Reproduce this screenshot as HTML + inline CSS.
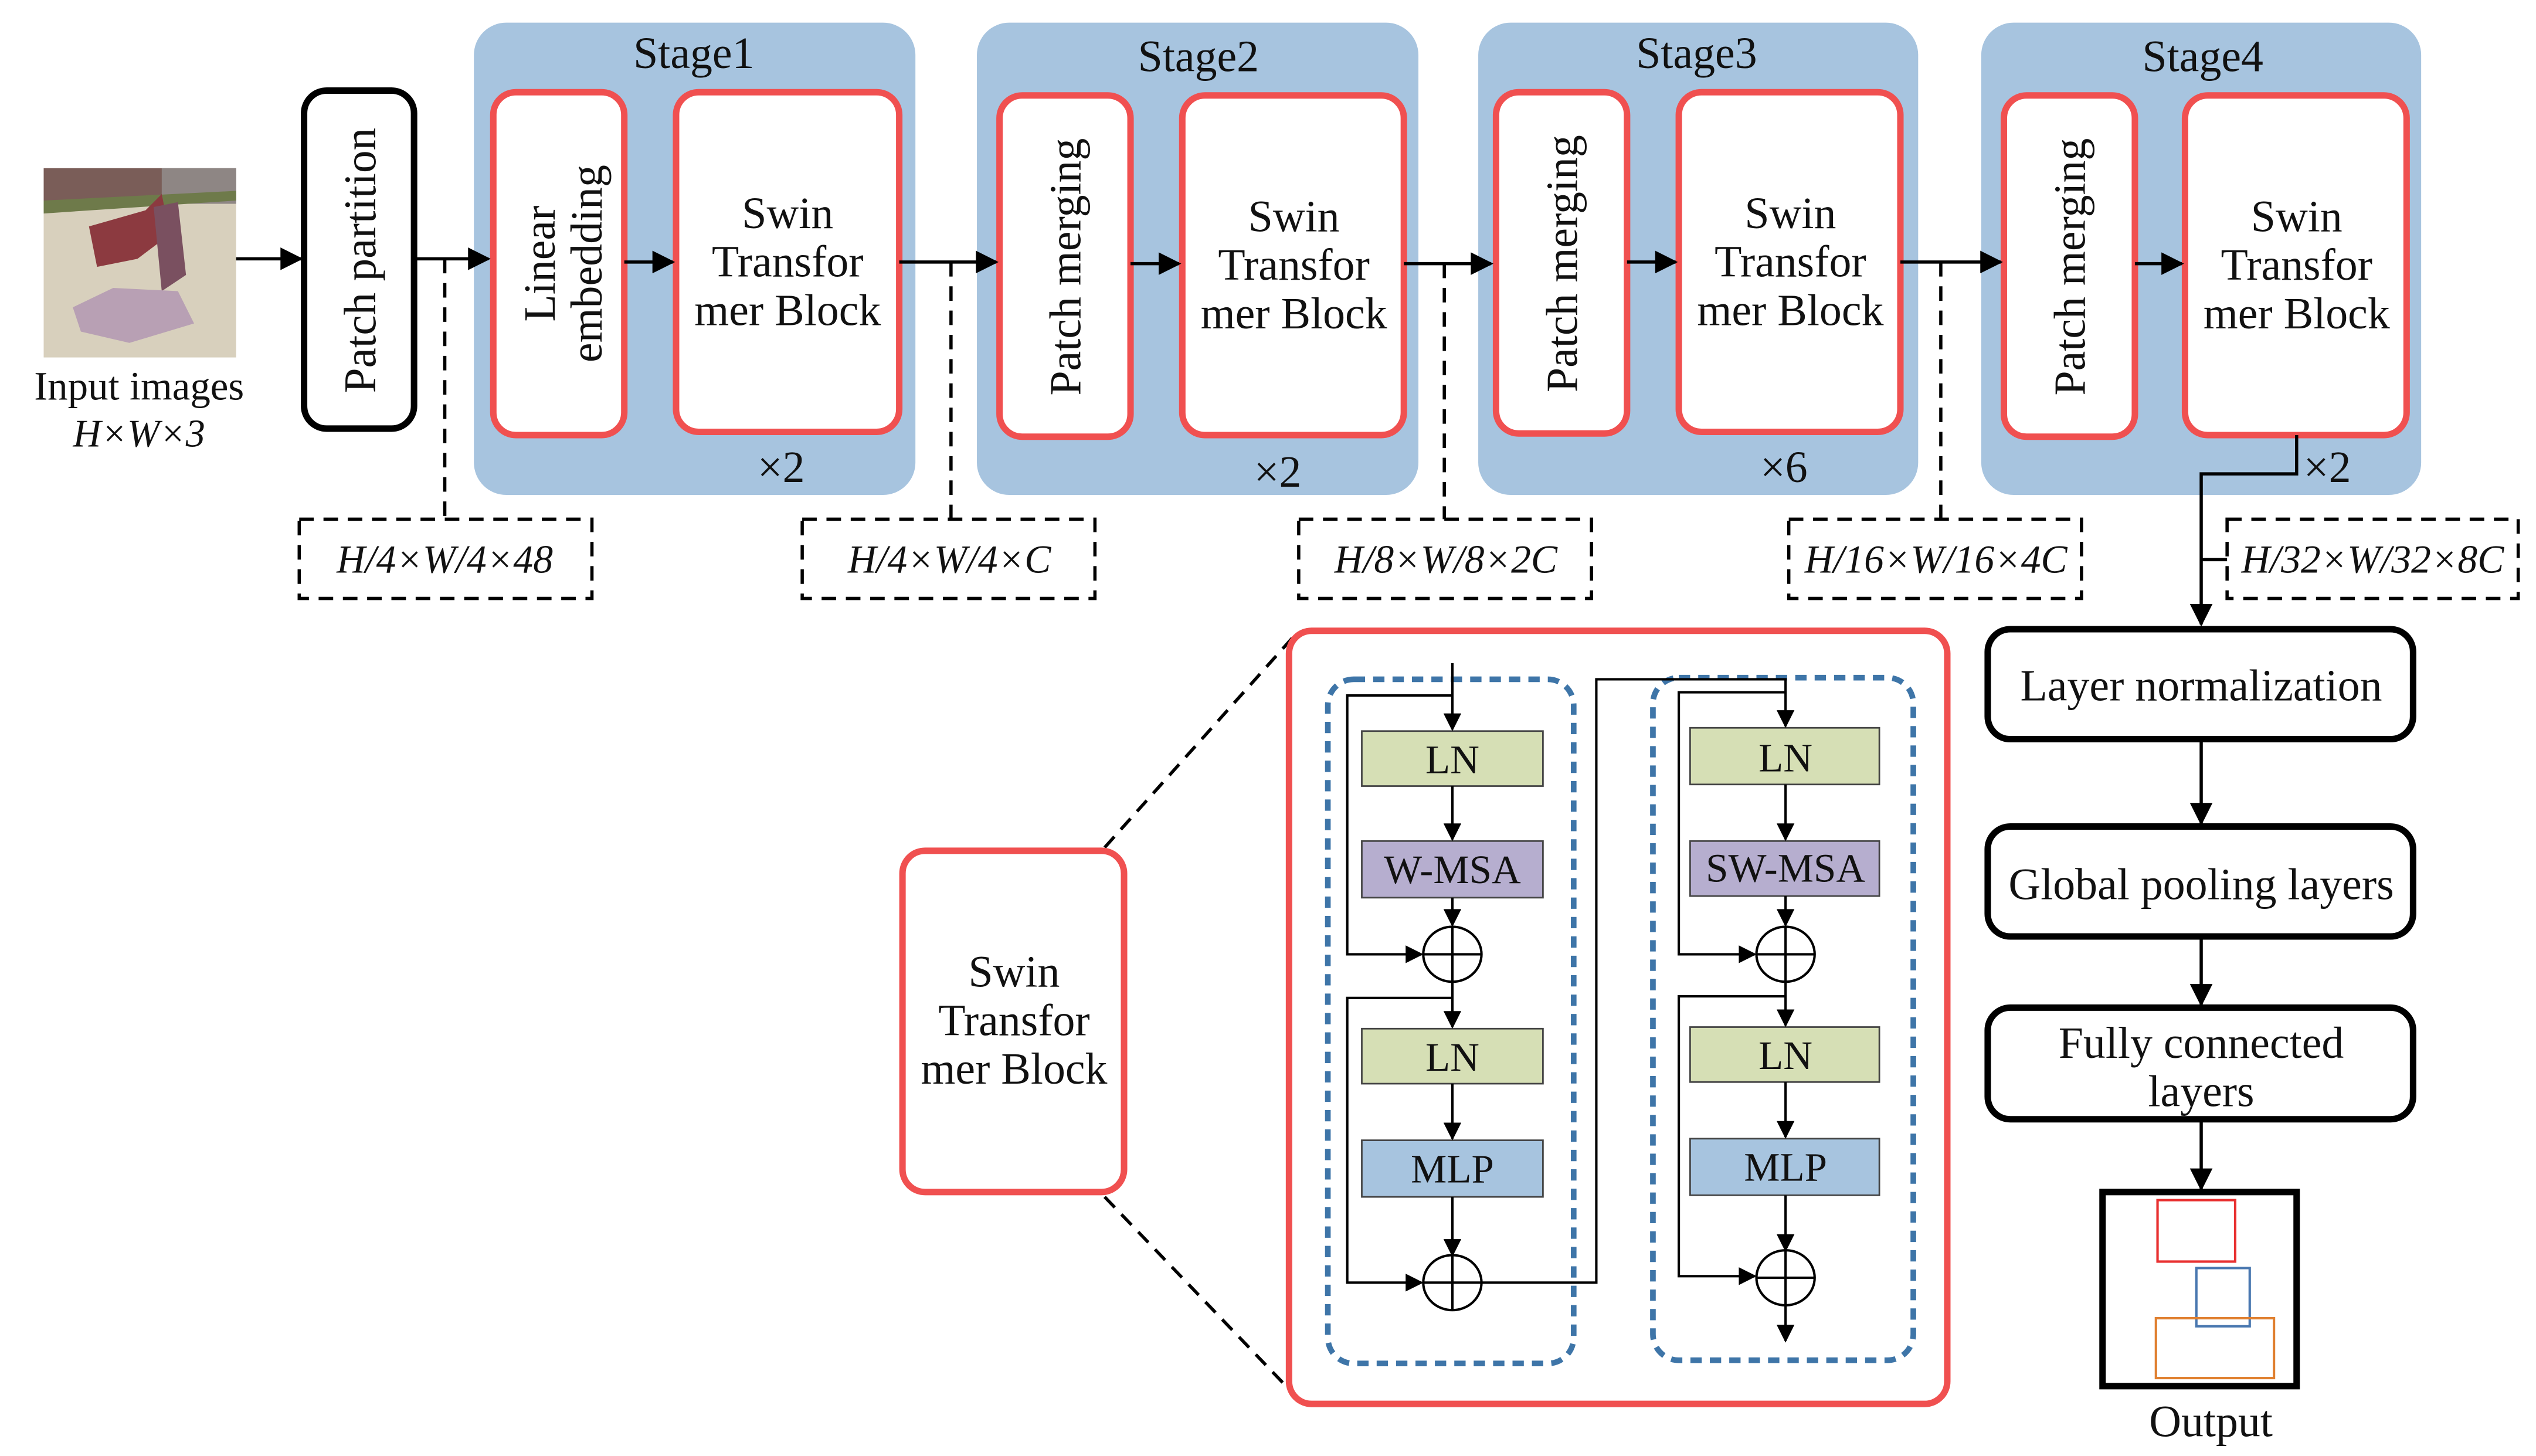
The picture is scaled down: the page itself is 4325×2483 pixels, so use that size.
<!DOCTYPE html>
<html><head><meta charset="utf-8"><style>
html,body{margin:0;padding:0;background:#fff;}
svg{display:block;}
text{font-family:"Liberation Serif",serif;fill:#111;}
</style></head><body>
<svg width="4325" height="2483" viewBox="0 0 1568 900.2" xmlns="http://www.w3.org/2000/svg">
<defs>
<marker id="a" viewBox="0 0 10 10" refX="9" refY="5" markerWidth="13" markerHeight="11" orient="auto" markerUnits="userSpaceOnUse"><path d="M0,0L10,5L0,10z" fill="#000"/></marker>
<marker id="b" viewBox="0 0 10 10" refX="9" refY="5" markerWidth="16" markerHeight="14" orient="auto" markerUnits="userSpaceOnUse"><path d="M0,0L10,5L0,10z" fill="#000"/></marker>
</defs>
<g id="img">
<rect x="27" y="104" width="119" height="117" fill="#d8d0bd"/>
<rect x="27" y="104" width="119" height="20" fill="#7a5d58"/>
<rect x="100" y="104" width="46" height="22" fill="#8e8684"/>
<path d="M27,124 L146,118 L146,124 L27,132z" fill="#6e7a4a"/>
<path d="M55,140 L90,130 L100,120 L105,145 L85,160 L60,165z" fill="#8c3a40"/>
<path d="M95,128 L110,125 L115,170 L100,180z" fill="#7a5060"/>
<path d="M45,190 L70,178 L110,180 L120,200 L80,212 L50,205z" fill="#b8a0b4"/>
</g>
<text x="86" y="247" font-size="25" text-anchor="middle">Input images</text>
<text x="86" y="276" font-size="24" text-anchor="middle" font-style="italic">H×W×3</text>

<rect x="188" y="56" width="68" height="209" rx="14" fill="#fff" stroke="#000" stroke-width="4"/>
<text transform="translate(232,161) rotate(-90)" font-size="28" text-anchor="middle">Patch partition</text>

<g fill="#a7c4df">
<rect x="293" y="14" width="273" height="292" rx="20"/>
<rect x="604" y="14" width="273" height="292" rx="20"/>
<rect x="914" y="14" width="272" height="292" rx="20"/>
<rect x="1225" y="14" width="272" height="292" rx="20"/>
</g>
<g font-size="27.5" text-anchor="middle">
<text x="429" y="42">Stage1</text><text x="741" y="44">Stage2</text><text x="1049" y="42">Stage3</text><text x="1362" y="44">Stage4</text>
</g>
<g fill="#fff" stroke="#f05050" stroke-width="4">
<rect x="305" y="57" width="81" height="212" rx="14"/><rect x="418" y="57" width="138" height="210" rx="14"/>
<rect x="618" y="59" width="81" height="211" rx="14"/><rect x="731" y="59" width="137" height="210" rx="14"/>
<rect x="925" y="57" width="81" height="211" rx="14"/><rect x="1038" y="57" width="137" height="210" rx="14"/>
<rect x="1239" y="59" width="81" height="211" rx="14"/><rect x="1351" y="59" width="137" height="210" rx="14"/>
</g>
<text transform="translate(343,163) rotate(-90)" font-size="27.5" text-anchor="middle">Linear</text>
<text transform="translate(372,163) rotate(-90)" font-size="27.5" text-anchor="middle">embedding</text>
<text transform="translate(668,165) rotate(-90)" font-size="27.5" text-anchor="middle">Patch merging</text>
<text transform="translate(975,163) rotate(-90)" font-size="27.5" text-anchor="middle">Patch merging</text>
<text transform="translate(1289,165) rotate(-90)" font-size="27.5" text-anchor="middle">Patch merging</text>
<g font-size="27.5" text-anchor="middle">
<text x="487" y="141">Swin</text><text x="487" y="171">Transfor</text><text x="487" y="201">mer Block</text>
<text x="800" y="143">Swin</text><text x="800" y="173">Transfor</text><text x="800" y="203">mer Block</text>
<text x="1107" y="141">Swin</text><text x="1107" y="171">Transfor</text><text x="1107" y="201">mer Block</text>
<text x="1420" y="143">Swin</text><text x="1420" y="173">Transfor</text><text x="1420" y="203">mer Block</text>
<text x="483" y="298">×2</text><text x="790" y="301">×2</text><text x="1103" y="298">×6</text><text x="1439" y="298">×2</text>
</g>
<g stroke="#000" stroke-width="2" fill="none" marker-end="url(#b)">
<line x1="146" y1="160" x2="186" y2="160"/>
<line x1="256" y1="160" x2="302" y2="160"/>
<line x1="386" y1="162" x2="416" y2="162"/>
<line x1="556" y1="162" x2="616" y2="162"/>
<line x1="699" y1="163" x2="729" y2="163"/>
<line x1="868" y1="163" x2="922" y2="163"/>
<line x1="1006" y1="162" x2="1036" y2="162"/>
<line x1="1175" y1="162" x2="1237" y2="162"/>
<line x1="1320" y1="163" x2="1349" y2="163"/>
<polyline points="1420,269 1420,293 1361,293 1361,386"/>
<line x1="1361" y1="457" x2="1361" y2="509"/>
<line x1="1361" y1="579" x2="1361" y2="621"/>
<line x1="1361" y1="692" x2="1361" y2="735"/>
</g>
<line x1="1361" y1="346" x2="1377" y2="346" stroke="#000" stroke-width="2"/>
<g stroke="#000" stroke-width="2" fill="none" stroke-dasharray="9 6">
<line x1="275" y1="160" x2="275" y2="321"/><line x1="588" y1="162" x2="588" y2="321"/>
<line x1="893" y1="163" x2="893" y2="321"/><line x1="1200" y1="162" x2="1200" y2="321"/>
<rect x="185" y="321" width="181" height="49"/><rect x="496" y="321" width="181" height="49"/>
<rect x="803" y="321" width="181" height="49"/><rect x="1106" y="321" width="181" height="49"/>
<rect x="1377" y="321" width="180" height="49"/>
<line x1="683" y1="524" x2="803" y2="390"/><line x1="683" y1="740" x2="800" y2="862"/>
</g>
<g font-size="24.5" font-style="italic" text-anchor="middle">
<text x="275" y="354">H/4×W/4×48</text><text x="587" y="354">H/4×W/4×C</text>
<text x="894" y="354">H/8×W/8×2C</text><text x="1197" y="354">H/16×W/16×4C</text>
<text x="1467" y="354">H/32×W/32×8C</text>
</g>
<g fill="#fff" stroke="#000" stroke-width="4">
<rect x="1229" y="389" width="263" height="68" rx="14"/>
<rect x="1229" y="511" width="263" height="68" rx="14"/>
<rect x="1229" y="623" width="263" height="69" rx="14"/>
<rect x="1300" y="737" width="120" height="120"/>
</g>
<g font-size="27.5" text-anchor="middle">
<text x="1361" y="433">Layer normalization</text>
<text x="1361" y="556">Global pooling layers</text>
<text x="1361" y="654">Fully connected</text><text x="1361" y="684">layers</text>
<text x="1367" y="888">Output</text>
</g>
<rect x="1334" y="742" width="48" height="38" fill="none" stroke="#e83030" stroke-width="1.5"/>
<rect x="1358" y="784" width="33" height="36" fill="none" stroke="#4a78b0" stroke-width="1.5"/>
<rect x="1333" y="815" width="73" height="37" fill="none" stroke="#e08030" stroke-width="1.5"/>

<rect x="558" y="526" width="137" height="211" rx="14" fill="#fff" stroke="#f05050" stroke-width="4"/>
<g font-size="27.5" text-anchor="middle"><text x="627" y="610">Swin</text><text x="627" y="640">Transfor</text><text x="627" y="670">mer Block</text></g>

<rect x="797" y="390" width="407" height="478" rx="14" fill="#fff" stroke="#f05050" stroke-width="4"/>
<g fill="none" stroke="#3e75a8" stroke-width="3.5" stroke-dasharray="7 5">
<rect x="821" y="420" width="152" height="423" rx="16"/>
<rect x="1022" y="419" width="161" height="422" rx="16"/>
</g>
<g stroke="#444" stroke-width="1">
<rect x="842" y="452" width="112" height="34" fill="#d6dfb5"/>
<rect x="842" y="520" width="112" height="35" fill="#b6aecf"/>
<rect x="842" y="636" width="112" height="34" fill="#d6dfb5"/>
<rect x="842" y="705" width="112" height="35" fill="#a7c4df"/>
<rect x="1045" y="450" width="117" height="35" fill="#d6dfb5"/>
<rect x="1045" y="520" width="117" height="34" fill="#b6aecf"/>
<rect x="1045" y="635" width="117" height="34" fill="#d6dfb5"/>
<rect x="1045" y="704" width="117" height="35" fill="#a7c4df"/>
</g>
<g font-size="25" text-anchor="middle">
<text x="898" y="478">LN</text><text x="898" y="546">W-MSA</text><text x="898" y="662">LN</text><text x="898" y="731">MLP</text>
<text x="1104" y="477">LN</text><text x="1104" y="545">SW-MSA</text><text x="1104" y="661">LN</text><text x="1104" y="730">MLP</text>
</g>
<g stroke="#000" stroke-width="1.5" fill="none" marker-end="url(#a)">
<line x1="898" y1="410" x2="898" y2="451"/><line x1="898" y1="486" x2="898" y2="519"/>
<line x1="898" y1="555" x2="898" y2="572"/>
<line x1="898" y1="607" x2="898" y2="635"/><line x1="898" y1="670" x2="898" y2="704"/>
<line x1="898" y1="740" x2="898" y2="776"/>
<polyline points="898,430 833,430 833,590 879,590"/>
<polyline points="898,617 833,617 833,793 879,793"/>
<polyline points="916,793 987,793 987,420 1104,420 1104,449"/>
<line x1="1104" y1="485" x2="1104" y2="519"/><line x1="1104" y1="554" x2="1104" y2="572"/>
<line x1="1104" y1="607" x2="1104" y2="634"/><line x1="1104" y1="669" x2="1104" y2="703"/>
<line x1="1104" y1="739" x2="1104" y2="773"/>
<line x1="1104" y1="807" x2="1104" y2="829"/>
<polyline points="1104,428 1038,428 1038,590 1085,590"/>
<polyline points="1104,616 1038,616 1038,789 1085,789"/>
</g>
<g stroke="#000" stroke-width="1.5" fill="#fff">
<ellipse cx="898" cy="590" rx="18" ry="17"/><ellipse cx="898" cy="793" rx="18" ry="17"/>
<ellipse cx="1104" cy="590" rx="18" ry="17"/><ellipse cx="1104" cy="790" rx="18" ry="17"/>
</g>
<g stroke="#000" stroke-width="1.5">
<line x1="880" y1="590" x2="916" y2="590"/><line x1="898" y1="573" x2="898" y2="607"/>
<line x1="880" y1="793" x2="916" y2="793"/><line x1="898" y1="776" x2="898" y2="810"/>
<line x1="1086" y1="590" x2="1122" y2="590"/><line x1="1104" y1="573" x2="1104" y2="607"/>
<line x1="1086" y1="790" x2="1122" y2="790"/><line x1="1104" y1="773" x2="1104" y2="807"/>
</g>
</svg>
</body></html>
